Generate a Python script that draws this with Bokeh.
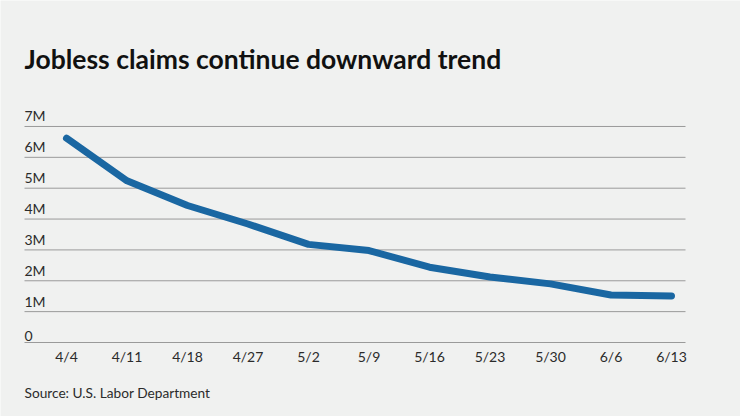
from bokeh.plotting import figure
from bokeh.models import Range1d
from bokeh.core.properties import value
from bokeh.embed import file_html
from bokeh.resources import INLINE

# Weekly initial jobless claims (millions)
weeks = ["4/4", "4/11", "4/18", "4/27", "5/2", "5/9", "5/16", "5/23", "5/30", "6/6", "6/13"]
claims_m = [6.62, 5.24, 4.44, 3.84, 3.18, 2.98, 2.44, 2.12, 1.90, 1.54, 1.51]
y_ticks = [0, 1, 2, 3, 4, 5, 6, 7]
y_tick_labels = ["0", "1M", "2M", "3M", "4M", "5M", "6M", "7M"]

BG = "#f0f1f0"
LINE = "#1a67a2"
GRID = "#9a9a9a"
TEXT = "#2b2b2b"
FONT = "Lato"

W, H = 740, 416
# plot area: first week at x=66px, 60.5px per week; zero line at y=342px, 30.86px per million
X_ORIGIN, PX_PER_X = 66, 60.5
Y_ORIGIN, PX_PER_Y = 342, 30.86


def to_x(px):
    return (px - X_ORIGIN) / PX_PER_X


def to_y(py):
    return (Y_ORIGIN - py) / PX_PER_Y


# the frame covers the whole canvas so every text can be placed freely
p = figure(width=W, height=H, output_backend="svg", toolbar_location=None,
           x_range=Range1d(to_x(0), to_x(W)), y_range=Range1d(to_y(H), to_y(0)),
           min_border=0, background_fill_color=BG, border_fill_color=BG,
           outline_line_color=None)
p.axis.visible = False
p.grid.visible = False

grid_left, grid_right = to_x(24), to_x(685)

# horizontal grid lines
p.segment(x0=[grid_left] * len(y_ticks), x1=[grid_right] * len(y_ticks),
          y0=y_ticks, y1=y_ticks, line_color=GRID, line_width=1)

# y tick labels sit on top of their grid lines, left aligned
p.text(x=[grid_left] * len(y_ticks), y=y_ticks, text=y_tick_labels,
       text_font=value(FONT), text_font_size="14px", text_color=TEXT,
       text_align="left", text_baseline="bottom", y_offset=-2)

# week labels under the plot
xs = list(range(len(weeks)))
p.text(x=xs, y=[to_y(347)] * len(weeks), text=weeks,
       text_font=value(FONT), text_font_size="14px", text_color=TEXT,
       text_align="center", text_baseline="top")

p.line(xs, claims_m, line_color=LINE, line_width=7,
       line_cap="round", line_join="round")

p.text(x=[to_x(24)], y=[to_y(58)], text=["Jobless claims continue downward trend"],
       text_font=value(FONT), text_font_style="bold", text_font_size="26.5px",
       text_color="#111111", text_align="left", text_baseline="alphabetic")
p.text(x=[to_x(24)], y=[to_y(392)], text=["Source: U.S. Labor Department"],
       text_font=value(FONT), text_font_size="13.7px", text_color=TEXT,
       text_align="left", text_baseline="alphabetic")

open("out.html", "w").write(file_html(p, INLINE))
